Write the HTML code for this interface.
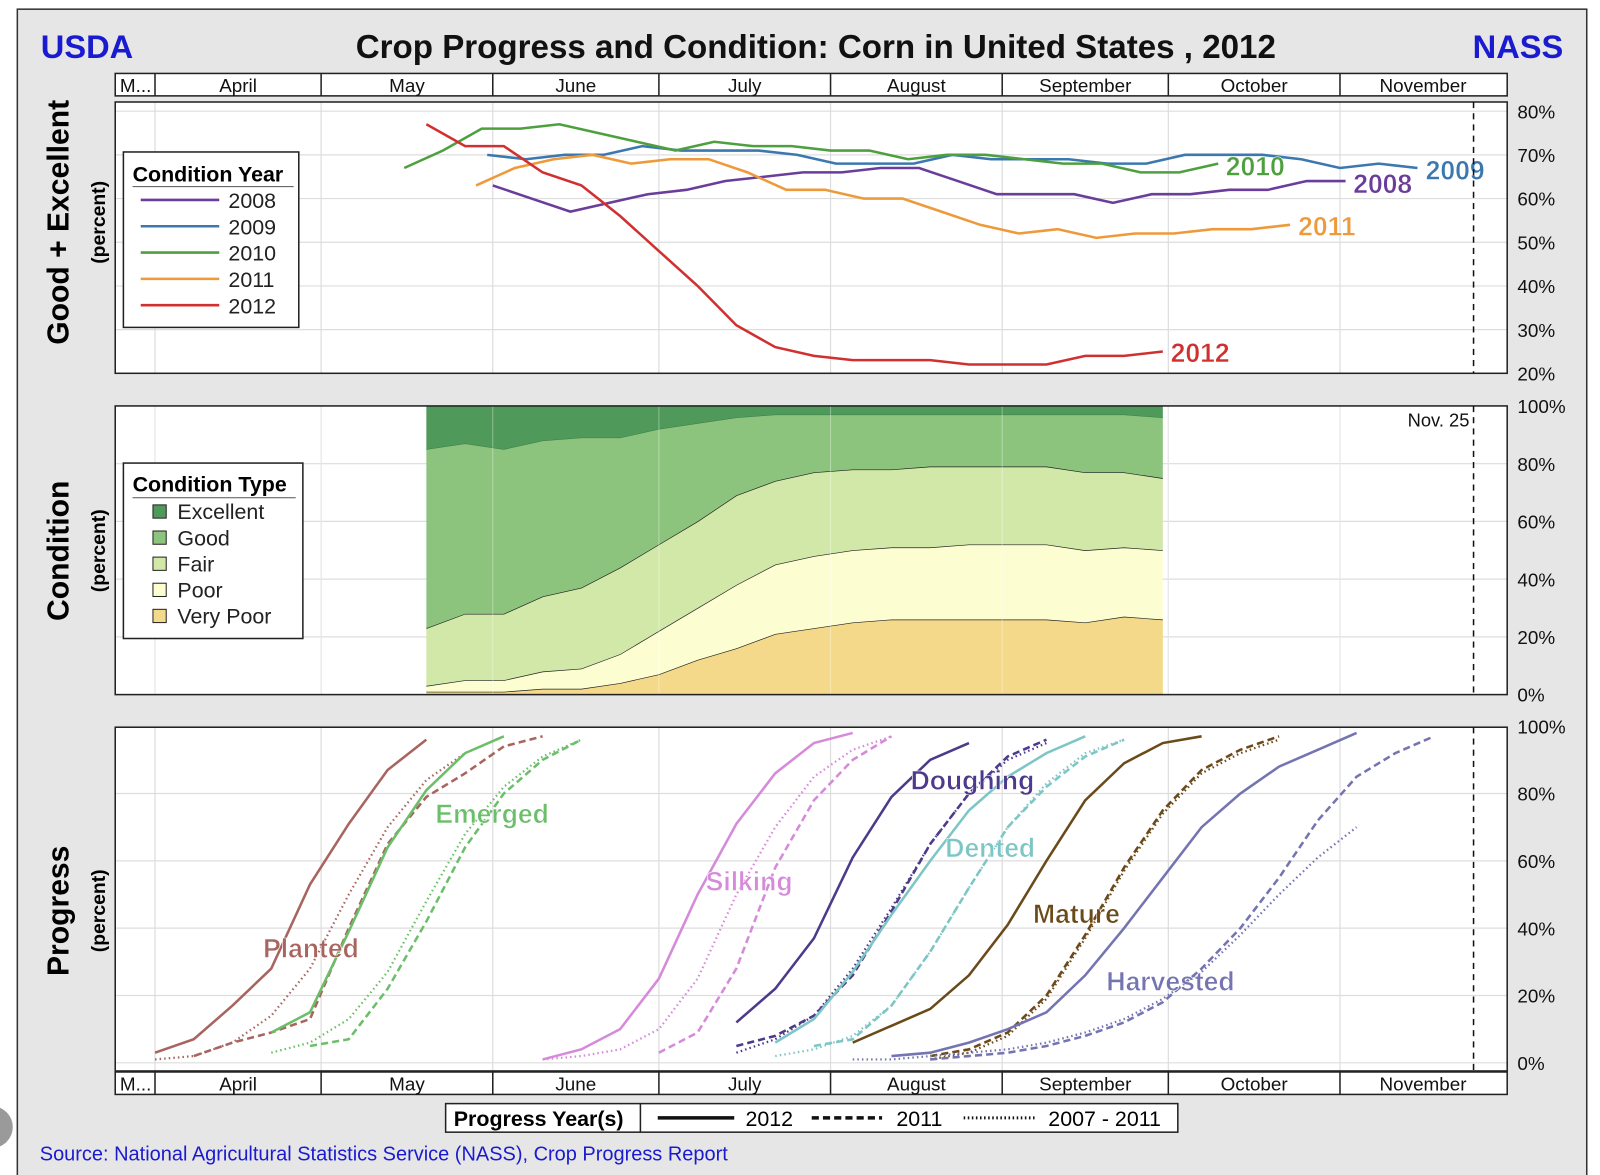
<!DOCTYPE html>
<html><head><meta charset="utf-8"><style>
html,body{margin:0;padding:0;background:#fff;}
svg{display:block;font-family:"Liberation Sans",Arial,sans-serif;}
</style></head><body>
<svg id="chart" width="1600" height="1175" viewBox="0 0 1569 1152" preserveAspectRatio="none" xmlns="http://www.w3.org/2000/svg">
<rect x="17" y="9" width="1539" height="1160" fill="#e6e6e6" stroke="#333" stroke-width="1.5"/>
<circle cx="-8" cy="1105" r="22" fill="#9a9a9a" stroke="#fff" stroke-width="3"/>
<text x="40" y="57" font-size="32" font-weight="bold" fill="#1a1ad0">USDA</text>
<text x="800" y="57" font-size="32.5" font-weight="bold" fill="#111" text-anchor="middle">Crop Progress and Condition: Corn in United States , 2012</text>
<text x="1533" y="57" font-size="32" font-weight="bold" fill="#1a1ad0" text-anchor="end">NASS</text>
<g id="layer"></g>
<text x="39" y="1138" font-size="19.6" fill="#1a1ad0">Source: National Agricultural Statistics Service (NASS), Crop Progress Report</text>
</svg>
<script>
// ---- data ----
const monthNames = ["M...","April","May","June","July","August","September","October","November"];
const monthStartDay = [-7,0,30,61,91,122,153,183,214,244];
const condYears = ["2008","2009","2010","2011","2012"];
const condStart = [61,60,45,58,49];
const cond2008 = [63,60,57,59,61,62,64,65,66,66,67,67,64,61,61,61,59,61,61,62,62,64,64];
const cond2009 = [70,69,70,70,72,71,71,71,70,68,68,68,70,69,69,69,68,68,70,70,70,69,67,68,67];
const cond2010 = [67,71,76,76,77,75,73,71,73,72,72,71,71,69,70,70,69,68,68,66,66,68];
const cond2011 = [63,67,69,70,68,69,69,66,62,62,60,60,57,54,52,53,51,52,52,53,53,54];
const cond2012 = [77,72,72,66,63,56,48,40,31,26,24,23,23,23,22,22,22,24,24,25];
const condTicks = [20,30,40,50,60,70,80];
const typeNames = ["Very Poor","Poor","Fair","Good","Excellent"];
const typeStart = 49;
const veryPoor = [1,1,1,2,2,4,7,12,16,21,23,25,26,26,26,26,26,25,27,26];
const poor = [2,4,4,6,7,10,15,18,22,24,25,25,25,25,26,26,26,25,24,24];
const fair = [20,23,23,26,28,30,30,30,31,29,29,28,27,28,27,27,27,27,26,25];
const good = [62,59,57,54,52,45,40,34,27,23,20,19,19,18,18,18,18,20,20,21];
const excellent = [15,13,15,12,11,11,8,6,4,3,3,3,3,3,3,3,3,3,3,4];
const typeTicks = [0,20,40,60,80,100];
const progTicks = [0,20,40,60,80,100];
const stageNames = ["Planted","Emerged","Silking","Doughing","Dented","Mature","Harvested"];
const planted12 = [3,7,17,28,53,71,87,96];
const planted11 = [2,6,9,13,40,65,79,86,94,97];
const plantedAvg = [1,2,6,14,28,50,70,84,92,97];
const emerged12 = [9,15,39,64,81,92,97];
const emerged11 = [5,7,22,42,64,80,90,96];
const emergedAvg = [3,6,13,27,48,68,82,91,96];
const silking12 = [1,4,10,25,50,71,86,95,98];
const silking11 = [3,9,28,58,78,90,97];
const silkingAvg = [1,2,4,10,25,50,70,85,93,97];
const doughing12 = [12,22,37,61,79,90,95];
const doughing11 = [5,8,14,26,45,65,80,91,96];
const doughingAvg = [3,7,14,28,46,65,80,90,95];
const dented12 = [6,13,27,44,60,75,85,92,97];
const dented11 = [5,7,17,33,52,70,82,91,96];
const dentedAvg = [2,4,8,17,33,52,70,83,92,96];
const mature12 = [6,11,16,26,41,60,78,89,95,97];
const mature11 = [2,4,9,20,38,58,75,87,93,97];
const matureAvg = [1,3,8,19,37,57,74,86,92,96];
const harvested12 = [2,3,6,10,15,26,40,55,70,80,88,93,98];
const harvested11 = [1,2,3,5,8,12,18,28,40,55,72,85,92,97];
const harvestedAvg = [1,1,2,3,4,6,9,13,19,27,38,50,61,70];
const start12 = [0,21,70,105,112,126,133];
const start11 = [7,28,91,105,119,140,140];
const startAvg = [0,21,70,105,112,140,126];

// ---- layout ----
const NS="http://www.w3.org/2000/svg";
const layer=document.getElementById('layer');
const PL=113, PR=1478;
function xDay(d){ return 152 + d*5.43; }
function yCond(v){ return 366 - (v-20)*(366-109)/60; }
function yType(v){ return 681 - v*(681-398)/100; }
function yProg(v){ return 1042 - v*(1042-712)/100; }
function mk(tag,attrs,parent){const e=document.createElementNS(NS,tag);for(const k in attrs)e.setAttribute(k,attrs[k]);(parent||layer).appendChild(e);return e;}
function pts(start,vals,yf){return vals.map((v,i)=>xDay(start+7*i).toFixed(1)+","+yf(v).toFixed(1)).join(" ");}

function monthBar(y0,name){
  const g=mk('g',{});
  
  
  mk('rect',{x:PL,y:y0,width:PR-PL,height:22,fill:'#fff',stroke:'#222','stroke-width':1.5},g);
  for(let i=0;i<monthNames.length;i++){
    const a=Math.max(PL,xDay(monthStartDay[i])), b=xDay(monthStartDay[i+1]);
    if(i>0) mk('line',{x1:a,y1:y0,x2:a,y2:y0+22,stroke:'#222','stroke-width':1.5},g);
    const t=mk('text',{x:(a+b)/2,y:y0+18,'font-size':18.5,'text-anchor':'middle',fill:'#111'},g);
    t.textContent=monthNames[i];
    
    
  }
}
function panel(y0,y1,ticks,yf,name){
  const g=mk('g',{});
  
  
  mk('rect',{x:PL,y:y0,width:PR-PL,height:y1-y0,fill:'#fff'},g);
  for(let i=1;i<monthStartDay.length-1;i++){const x=xDay(monthStartDay[i]);mk('line',{x1:x,y1:y0,x2:x,y2:y1,stroke:'#ddd','stroke-width':1.2},g);}
  ticks.forEach(v=>{const y=yf(v);mk('line',{x1:PL,y1:y,x2:PR,y2:y,stroke:'#ddd','stroke-width':1.2},g);
    const t=mk('text',{x:1488,y:y+7,'font-size':18.5,fill:'#111'},layer);t.textContent=v+'%';
    
    });
  return g;
}
function frame(y0,y1){mk('rect',{x:PL,y:y0,width:PR-PL,height:y1-y0,fill:'none',stroke:'#222','stroke-width':1.5});
  mk('line',{x1:1445,y1:y0,x2:1445,y2:y1,stroke:'#111','stroke-width':1.5,'stroke-dasharray':'6,5'});}
function axisTitle(cy,label){
  const t=mk('text',{x:0,y:0,'font-size':29.5,'font-weight':'bold','text-anchor':'middle',transform:`translate(67,${cy}) rotate(-90)`});t.textContent=label;
  
  
  const p=mk('text',{x:0,y:0,'font-size':19,'font-weight':'bold','text-anchor':'middle',transform:`translate(103,${cy}) rotate(-90)`});p.textContent='(percent)';
  
  
}

monthBar(72,'top-month-bar');
// Panel 1
panel(100,366,condTicks,yCond,'condition-year-panel');
const condSeries=[cond2008,cond2009,cond2010,cond2011,cond2012];
const condColors=['#6a3d9a','#3b78b0','#4ea03e','#ee9a3a','#d03030'];
const condLabelPos=[[1327,189],[1398,176],[1202,172],[1273,231],[1148,355]];
condSeries.forEach((s,i)=>{
  const l=mk('polyline',{points:pts(condStart[i],s,yCond),fill:'none',stroke:condColors[i],'stroke-width':2.5});
  
  
  const t=mk('text',{x:condLabelPos[i][0],y:condLabelPos[i][1],'font-size':26,'font-weight':'bold',fill:condColors[i],stroke:'#fff','stroke-width':0.5});
  t.textContent=condYears[i];
  
  
});
frame(100,366);
// legend 1
{const g=mk('g',{});
 mk('rect',{x:121,y:149,width:172,height:172,fill:'#fff',stroke:'#222','stroke-width':1.5},g);
 const t=mk('text',{x:130,y:178,'font-size':21,'font-weight':'bold'},g);t.textContent='Condition Year';
 mk('line',{x1:130,y1:183,x2:288,y2:183,stroke:'#555'},g);
 condYears.forEach((y,i)=>{const yy=196+i*25.8;mk('line',{x1:138,y1:yy,x2:215,y2:yy,stroke:condColors[i],'stroke-width':2.5},g);
  const tt=mk('text',{x:224,y:yy+8,'font-size':21,fill:'#222'},g);tt.textContent=y;
  
  });}

// Panel 2
panel(398,681,typeTicks,yType,'condition-type-panel');
const layers=[veryPoor,poor,fair,good,excellent];
const layerColors=['#f5d98a','#fdfdd2','#d2e8a8','#8cc47e','#4f9a5a'];
let base=veryPoor.map(()=>0);
layers.forEach((arr,k)=>{
  const top=base.map((b,i)=>b+arr[i]);
  const up=top.map((v,i)=>xDay(typeStart+7*i).toFixed(1)+","+yType(v).toFixed(1));
  const dn=base.map((v,i)=>xDay(typeStart+7*i).toFixed(1)+","+yType(v).toFixed(1)).reverse();
  const p=mk('polygon',{points:up.concat(dn).join(" "),fill:layerColors[k],stroke:'none'});
  
  
  if(k<3){mk('polyline',{points:up.join(" "),fill:'none',stroke:'#222','stroke-width':1.3});}
  else if(k===3){mk('polyline',{points:up.join(" "),fill:'none',stroke:'#3d7a46','stroke-width':1});}
  base=top;
});
for(let i=1;i<monthStartDay.length-1;i++){const x=xDay(monthStartDay[i]);mk('line',{x1:x,y1:398,x2:x,y2:681,stroke:'#fff','stroke-width':1,opacity:0.35});}
frame(398,681);
{const t=mk('text',{x:1441,y:418,'font-size':18,'text-anchor':'end',fill:'#111'});t.textContent='Nov. 25';
 }
{const g=mk('g',{});
 mk('rect',{x:121,y:454,width:176,height:172,fill:'#fff',stroke:'#222','stroke-width':1.5},g);
 const t=mk('text',{x:130,y:482,'font-size':21,'font-weight':'bold'},g);t.textContent='Condition Type';
 mk('line',{x1:130,y1:488,x2:290,y2:488,stroke:'#555'},g);
 for(let i=0;i<5;i++){const k=4-i;const yy=502+i*25.6;mk('rect',{x:150,y:yy-7,width:13,height:13,fill:layerColors[k],stroke:'#222'},g);
  const tt=mk('text',{x:174,y:yy+7,'font-size':21,fill:'#222'},g);tt.textContent=typeNames[k];
  
  }}

// Panel 3
panel(713,1050,progTicks,yProg,'progress-panel');
const s12=[planted12,emerged12,silking12,doughing12,dented12,mature12,harvested12];
const s11=[planted11,emerged11,silking11,doughing11,dented11,mature11,harvested11];
const sAvg=[plantedAvg,emergedAvg,silkingAvg,doughingAvg,dentedAvg,matureAvg,harvestedAvg];
const stageColors=['#a86560','#6cbf6a','#d68ada','#4d3a8a','#7ec6c6','#6b4a1a','#7474b2'];
const stageLabelPos=[[258,939],[427,807],[692,873],[893,774],[927,840],[1013,905],[1085,971]];
stageNames.forEach((n,i)=>{
  const a=mk('polyline',{points:pts(startAvg[i],sAvg[i],yProg),fill:'none',stroke:stageColors[i],'stroke-width':2.2,'stroke-dasharray':'1.5,3'});
  
  const b=mk('polyline',{points:pts(start11[i],s11[i],yProg),fill:'none',stroke:stageColors[i],'stroke-width':2.5,'stroke-dasharray':'7,4'});
  
  const c=mk('polyline',{points:pts(start12[i],s12[i],yProg),fill:'none',stroke:stageColors[i],'stroke-width':2.5});
  
});
stageNames.forEach((n,i)=>{
  const t=mk('text',{x:stageLabelPos[i][0],y:stageLabelPos[i][1],'font-size':26,'font-weight':'bold',fill:stageColors[i],stroke:'#fff','stroke-width':0.6});
  t.textContent=n;
  
  
});
frame(713,1050);
monthBar(1051,'bottom-month-bar');

axisTitle(218,'Good + Excellent');
axisTitle(540,'Condition');
axisTitle(893,'Progress');

// bottom legend
{const g=mk('g',{});
 mk('rect',{x:437,y:1082,width:718,height:28,fill:'#fff',stroke:'#222','stroke-width':1.5},g);
 const t=mk('text',{x:445,y:1104,'font-size':21,'font-weight':'bold'},g);t.textContent='Progress Year(s)';
 mk('line',{x1:628,y1:1082,x2:628,y2:1110,stroke:'#222','stroke-width':1.5},g);
 mk('line',{x1:645,y1:1096,x2:720,y2:1096,stroke:'#111','stroke-width':3.5},g);
 const a=mk('text',{x:731,y:1104,'font-size':21},g);a.textContent='2012';
 mk('line',{x1:796,y1:1096,x2:865,y2:1096,stroke:'#111','stroke-width':3.5,'stroke-dasharray':'7,4'},g);
 const b=mk('text',{x:879,y:1104,'font-size':21},g);b.textContent='2011';
 mk('line',{x1:945,y1:1096,x2:1015,y2:1096,stroke:'#111','stroke-width':3,'stroke-dasharray':'1.5,2.5'},g);
 const c=mk('text',{x:1028,y:1104,'font-size':21},g);c.textContent='2007 - 2011';}
</script>
</body></html>
